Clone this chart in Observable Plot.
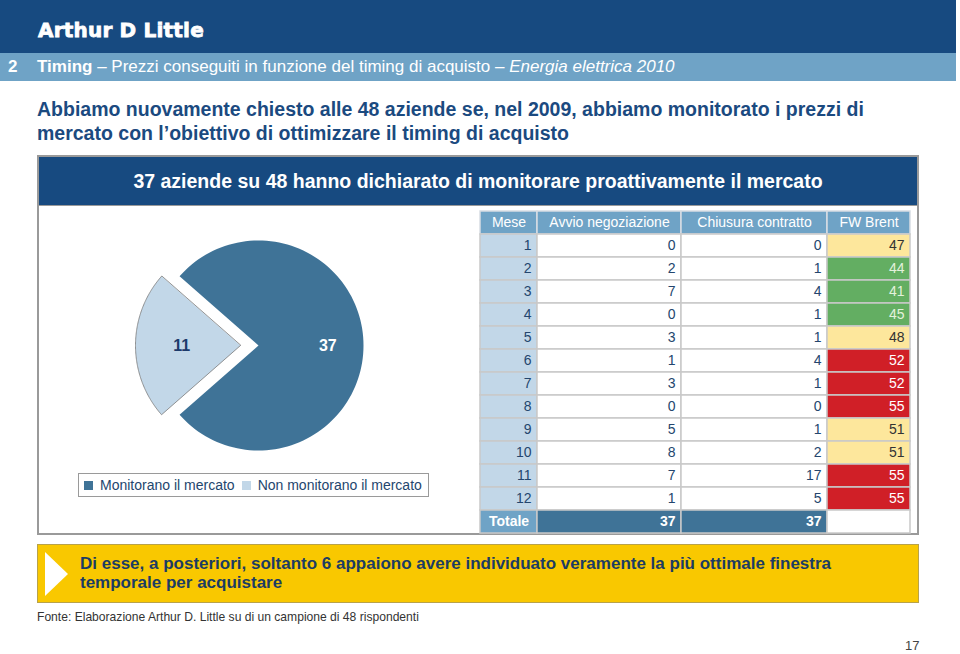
<!DOCTYPE html>
<html>
<head>
<meta charset="utf-8">
<script src="https://cdn.jsdelivr.net/npm/d3@7"></script>
<script src="https://cdn.jsdelivr.net/npm/@observablehq/plot@0.6"></script>
<style>
  html, body { margin: 0; padding: 0; background: #fff; }
  body { width: 960px; height: 654px; position: relative; overflow: hidden; font-family: "Liberation Sans", Arial, sans-serif; }
  .abs { position: absolute; }
  #topbar { left: 0; top: 0; width: 956px; height: 53px; background: #174a80; }
  #logo { left: 38px; top: 20px; color: #fff; font-family: "DejaVu Sans", sans-serif; font-weight: bold; font-size: 20px; letter-spacing: 0.2px; line-height: 20px; white-space: nowrap; -webkit-text-stroke: 0.8px #fff; }
  #subbar { left: 0; top: 53px; width: 956px; height: 28px; background: #6fa3c6; color: #fff; font-size: 17px; line-height: 28px; }
  #subbar .num { position: absolute; left: 8px; font-weight: bold; }
  #subbar .txt { position: absolute; left: 37px; white-space: nowrap; }
  #title { left: 37px; top: 97px; color: #1b4a80; font-weight: bold; font-size: 19.5px; line-height: 24px; white-space: nowrap; }
  #box { left: 37px; top: 155px; width: 878px; height: 376px; border: 2px solid #9a9a9a; }
  #boxhead { left: 39px; top: 157px; width: 878px; height: 48px; background: #174a80; color: #fff; font-weight: bold; font-size: 19.5px; line-height: 48px; text-align: center; border-bottom: 1px solid #9a9a9a; white-space: nowrap; }
  #legendbox { left: 78px; top: 473px; width: 349px; height: 22px; border: 1px solid #9a9a9a; background: #fff; overflow: hidden; }
  #legendbox span { margin-right: 7px !important; white-space: nowrap; }
  #callout { left: 37px; top: 544px; width: 880px; height: 57px; background: #f9c800; border: 1px solid #b8a24a; }
  #callout .text { position: absolute; left: 42px; top: 9px; color: #1c3c63; font-weight: bold; font-size: 17px; line-height: 19px; white-space: nowrap; }
  #arrow { position: absolute; left: 7px; top: 7px; width: 0; height: 0; border-top: 22px solid transparent; border-bottom: 22px solid transparent; border-left: 23px solid #fff; }
  #source { left: 37px; top: 610px; font-size: 12.1px; color: #333; white-space: nowrap; }
  #page { left: 905px; top: 638px; font-size: 13px; color: #444; }
</style>
</head>
<body>
<div id="topbar" class="abs"></div>
<div id="logo" class="abs">Arthur D Little</div>
<div id="subbar" class="abs"><span class="num">2</span><span class="txt"><b>Timing</b> – Prezzi conseguiti in funzione del timing di acquisto – <i>Energia elettrica 2010</i></span></div>
<div id="title" class="abs">Abbiamo nuovamente chiesto alle 48 aziende se, nel 2009, abbiamo monitorato i prezzi di<br>mercato con l’obiettivo di ottimizzare il timing di acquisto</div>
<div id="box" class="abs"></div>
<div id="boxhead" class="abs">37 aziende su 48 hanno dichiarato di monitorare proattivamente il mercato</div>
<div id="pie" class="abs"></div>
<div id="legendbox" class="abs"></div>
<div id="table" class="abs"></div>
<div id="callout" class="abs"><div id="arrow"></div><div class="text">Di esse, a posteriori, soltanto 6 appaiono avere individuato veramente la più ottimale finestra<br>temporale per acquistare</div></div>
<div id="source" class="abs">Fonte: Elaborazione Arthur D. Little su di un campione di 48 rispondenti</div>
<div id="page" class="abs">17</div>

<script>
// ---------------- DATA ----------------
const pieLabels = ["Monitorano il mercato", "Non monitorano il mercato"];
const pieValues = [37, 11];

const columns = ["Mese", "Avvio negoziazione", "Chiusura contratto", "FW Brent"];
const months = [1, 2, 3, 4, 5, 6, 7, 8, 9, 10, 11, 12];
const avvio = [0, 2, 7, 0, 3, 1, 3, 0, 5, 8, 7, 1];
const chiusura = [0, 1, 4, 1, 1, 4, 1, 0, 1, 2, 17, 5];
const brent = [47, 44, 41, 45, 48, 52, 52, 55, 51, 51, 55, 55];
const totalLabel = "Totale";
const totals = [37, 37];

// ---------------- STYLE / LAYOUT ----------------
const pieColors = ["#3f7397", "#c2d7e8"];
const navy = "#24466e";
const font = "'Liberation Sans', Arial, sans-serif";

// ---------------- PIE ----------------
{
  const W = 270, H = 240, R = 105, explode = 18;
  const a = 2 * Math.PI * pieValues[1] / d3.sum(pieValues);
  const start = -Math.PI / 2 + a / 2;
  const arcs = d3.pie().sort(null).startAngle(start).endAngle(start + 2 * Math.PI)(pieValues);
  const pts = [];
  const labs = [];
  arcs.forEach((arc, i) => {
    const mid = (arc.startAngle + arc.endAngle) / 2;
    const off = i === 1 ? explode : 0;
    const cx = off * Math.sin(mid), cy = off * Math.cos(mid);
    const label = pieLabels[i];
    pts.push({label, x: cx, y: cy});
    const n = 120;
    for (let k = 0; k <= n; k++) {
      const t = arc.startAngle + (arc.endAngle - arc.startAngle) * k / n;
      pts.push({label, x: cx + R * Math.sin(t), y: cy + R * Math.cos(t)});
    }
    const lr = i === 1 ? 0.56 : 0.66;
    labs.push({label, value: pieValues[i], x: cx + lr * R * Math.sin(mid), y: cy + lr * R * Math.cos(mid)});
  });
  const pie = Plot.plot({
    width: W, height: H, margin: 0,
    x: {domain: [-W / 2, W / 2], axis: null},
    y: {domain: [-H / 2, H / 2], axis: null},
    color: {domain: pieLabels, range: pieColors},
    style: {background: "transparent", fontFamily: font, overflow: "visible"},
    marks: [
      Plot.line(pts, {x: "x", y: "y", z: "label", fill: "label", stroke: d => d.label === pieLabels[1] ? "#7a7a7a" : "none", strokeWidth: 0.8, curve: "linear-closed"}),
      Plot.text(labs.filter(d => d.label === pieLabels[0]), {x: "x", y: "y", text: "value", fill: "white", fontWeight: "bold", fontSize: 16}),
      Plot.text(labs.filter(d => d.label === pieLabels[1]), {x: "x", y: "y", text: "value", fill: "#1c3a6a", fontWeight: "bold", fontSize: 16})
    ]
  });
  const host = document.getElementById("pie");
  host.style.left = (258 - W / 2) + "px";
  host.style.top = (345 - H / 2) + "px";
  host.appendChild(pie);

  const leg = Plot.legend({
    color: {domain: pieLabels, range: pieColors},
    legend: "swatches", swatchSize: 9, swatchWidth: 9, swatchHeight: 9,
    style: {fontFamily: font, fontSize: "14px", color: navy, margin: "0", background: "transparent"}
  });
  leg.style.flexWrap = "nowrap";
  leg.style.minHeight = "0";
  leg.style.marginLeft = "5px";
  leg.style.marginTop = "3px";
  leg.style.whiteSpace = "nowrap";
  document.getElementById("legendbox").appendChild(leg);
}

// ---------------- TABLE ----------------
{
  const colW = [57, 144, 146, 83];
  const edges = [0];
  colW.forEach(w => edges.push(edges[edges.length - 1] + w));
  const TW = edges[4];
  const rows = ["head", ...months.map(String), "total"];
  const TH = 323;
  const cell = (row, c, extra) => ({row, x1: edges[c], x2: edges[c + 1], ...extra});

  const headCells = columns.map((t, c) => cell("head", c, {t}));
  const meseCells = months.map(m => cell(String(m), 0, {t: m}));
  const bodyCells = [];
  months.forEach((m, i) => {
    bodyCells.push(cell(String(m), 1, {t: avvio[i]}));
    bodyCells.push(cell(String(m), 2, {t: chiusura[i]}));
  });
  const brentCells = months.map((m, i) => cell(String(m), 3, {t: brent[i], v: brent[i]}));
  const totLabelCell = [cell("total", 0, {t: totalLabel})];
  const totCells = totals.map((v, j) => cell("total", j + 1, {t: v}));
  const totBlank = [cell("total", 3, {t: ""})];

  const grid = "#c9c9c9";
  const pad = 6;
  const table = Plot.plot({
    width: TW, height: TH, margin: 0,
    x: {domain: [0, TW], range: [0, TW], axis: null},
    y: {type: "band", domain: rows, range: [0, TH], padding: 0, axis: null},
    color: {type: "threshold", domain: [46, 52], range: ["#63ae62", "#fde79c", "#d01f27"]},
    style: {background: "transparent", fontFamily: font, fontSize: "14px", overflow: "visible"},
    marks: [
      Plot.barX(headCells, {x1: "x1", x2: "x2", y: "row", fill: "#6fa3c6", stroke: "#d7dde3", strokeWidth: 1.5}),
      Plot.barX(meseCells, {x1: "x1", x2: "x2", y: "row", fill: "#c2d7e8", stroke: grid, strokeWidth: 1.5}),
      Plot.barX(bodyCells, {x1: "x1", x2: "x2", y: "row", fill: "white", stroke: grid, strokeWidth: 1.5}),
      Plot.barX(brentCells, {x1: "x1", x2: "x2", y: "row", fill: "v", stroke: grid, strokeWidth: 1.5}),
      Plot.barX(totLabelCell, {x1: "x1", x2: "x2", y: "row", fill: "#6fa3c6", stroke: grid, strokeWidth: 1.5}),
      Plot.barX(totCells, {x1: "x1", x2: "x2", y: "row", fill: "#3f7397", stroke: grid, strokeWidth: 1.5}),
      Plot.barX(totBlank, {x1: "x1", x2: "x2", y: "row", fill: "white", stroke: grid, strokeWidth: 1.5}),
      Plot.text(headCells, {x: d => (d.x1 + d.x2) / 2, y: "row", text: "t", fill: "white", fontSize: 14}),
      Plot.text(meseCells, {x: d => d.x2 - pad, y: "row", text: "t", textAnchor: "end", fill: navy, fontSize: 14}),
      Plot.text(bodyCells, {x: d => d.x2 - pad, y: "row", text: "t", textAnchor: "end", fill: navy, fontSize: 14}),
      Plot.text(brentCells.filter(d => d.v < 46), {x: d => d.x2 - pad, y: "row", text: "t", textAnchor: "end", fill: "#e3f2dc", fontSize: 14}),
      Plot.text(brentCells.filter(d => d.v >= 46 && d.v < 52), {x: d => d.x2 - pad, y: "row", text: "t", textAnchor: "end", fill: "#333", fontSize: 14}),
      Plot.text(brentCells.filter(d => d.v >= 52), {x: d => d.x2 - pad, y: "row", text: "t", textAnchor: "end", fill: "white", fontSize: 14}),
      Plot.text(totLabelCell, {x: d => (d.x1 + d.x2) / 2, y: "row", text: "t", fill: "white", fontWeight: "bold", fontSize: 14}),
      Plot.text(totCells, {x: d => d.x2 - pad, y: "row", text: "t", textAnchor: "end", fill: "white", fontWeight: "bold", fontSize: 14})
    ]
  });
  const host = document.getElementById("table");
  host.style.left = "480px";
  host.style.top = "210px";
  host.appendChild(table);
}
</script>
</body>
</html>
